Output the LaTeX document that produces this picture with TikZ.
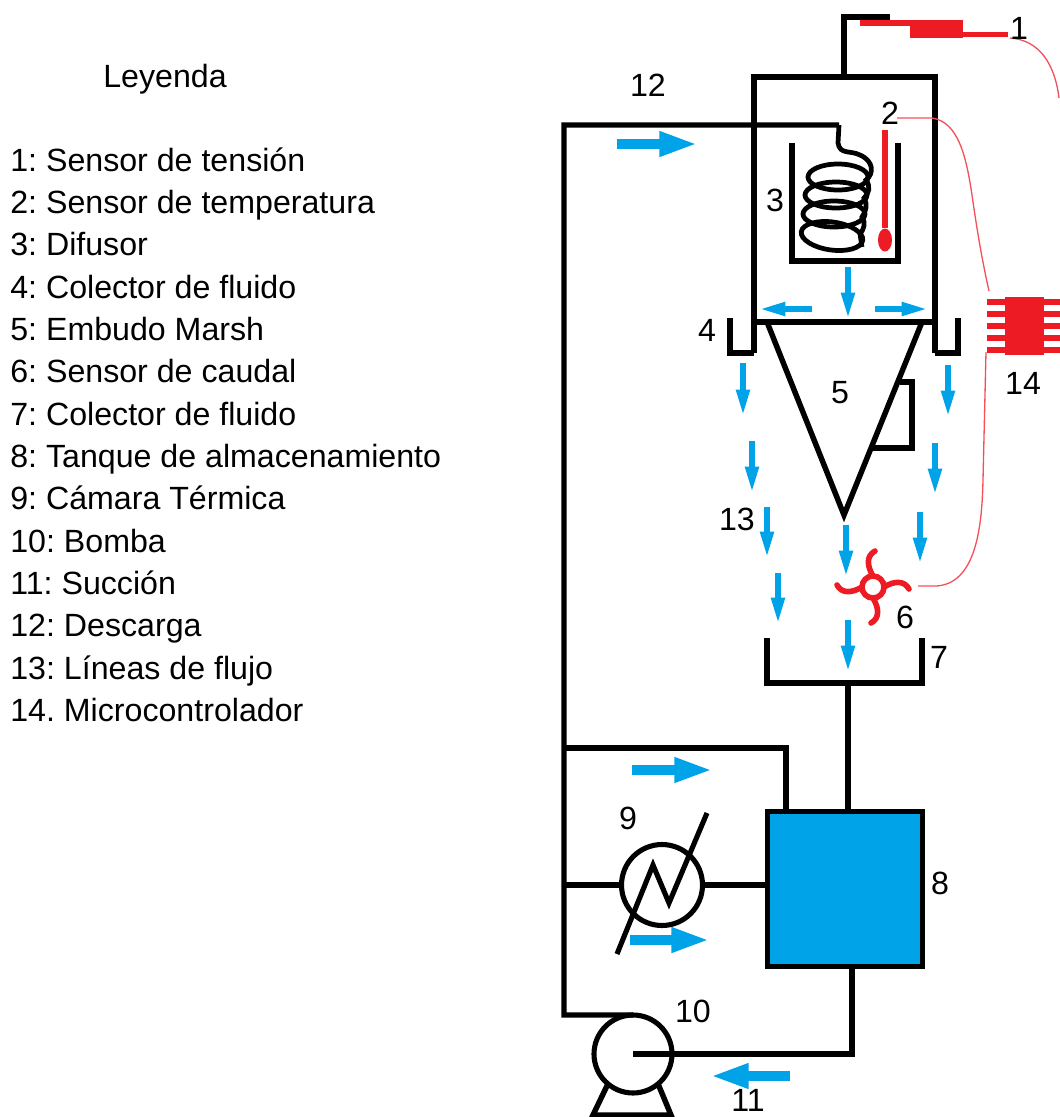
\documentclass[tikz,border=0pt]{standalone}
\usepackage{fontspec}
\setmainfont{Liberation Sans}
\frenchspacing
\usetikzlibrary{shapes.geometric, arrows.meta, positioning}
\definecolor{sensorred}{RGB}{237,28,36}
\definecolor{wirered}{RGB}{244,80,90}
\definecolor{flowblue}{RGB}{0,162,232}

\begin{document}
\begin{tikzpicture}[x=0.02cm, y=-0.02cm,
  pipe/.style={line width=3.1pt, draw=black},
  coil/.style={line width=2.7pt, draw=black},
  equip/.style={circle, draw=black, line width=2.9pt, inner sep=0pt, outer sep=0pt},
  tank/.style={rectangle, draw=black, line width=3pt, fill=flowblue, inner sep=0pt, outer sep=0pt,
               minimum width=3.1cm, minimum height=3.1cm},
  redbar/.style={line width=3.2pt, draw=sensorred},
  redblock/.style={rectangle, fill=sensorred, inner sep=0pt, outer sep=0pt},
  wire/.style={line width=0.75pt, draw=wirered},
  flow/.style={-{Stealth[length=15pt, width=7.2pt, inset=0pt]}, line width=3.3pt, flowblue},
  bigflow/.style={-{Stealth[length=22pt, width=13pt, inset=0pt]}, line width=6.2pt, flowblue},
  tag/.style={font=\fontsize{18.3}{22}\selectfont, inner sep=0pt}
]
  \useasboundingbox (0,0) rectangle (1060,1117);

  \node[tag] (title) at (165,79) {Leyenda};
  \node[tag, anchor=north west, align=left, font=\fontsize{18.3}{24.1}\selectfont] (legend) at (10,147)
    {1: Sensor de tensión\\2: Sensor de temperatura\\3: Difusor\\4: Colector de fluido\\
     5: Embudo Marsh\\6: Sensor de caudal\\7: Colector de fluido\\8: Tanque de almacenamiento\\
     9: Cámara Térmica\\10: Bomba\\11: Succión\\12: Descarga\\13: Líneas de flujo\\14. Microcontrolador};

  \node[tank] (store) at (845,889) {};
  \node[equip] (exch) at (662,885) [minimum size=1.62cm] {};
  \node[equip] (pump) at (633,1054) [minimum size=1.56cm] {};

  \coordinate (dis) at (564,1015);
  \coordinate (top) at (564,125);
  \coordinate (head) at (839,125);
  \coordinate (byp) at (564,748);
  \coordinate (bypr) at (786,748);
  \coordinate (mix) at (564,885);
  \coordinate (suc) at (852,1054);
  \coordinate (base) at (848,683);
  \coordinate (footl) at (593,1115);
  \coordinate (footr) at (671,1115);
  \coordinate (stub) at (844,17);
  \coordinate (stubr) at (890,17);

  \draw[pipe] (pump.north) -- (dis) -- (top) -- (head);
  \draw[pipe] (byp) -- (bypr) -- (bypr |- store.north);
  \draw[pipe] (mix) -- (exch.west);
  \draw[pipe] (exch.east) -- (exch.east -| store.west);
  \draw[pipe] (store.south -| suc) -- (suc) -- (pump.center);
  \draw[pipe] (base) -- (base |- store.north);
  \draw[pipe] (pump.230) -- (footl) -- (footr) -- (pump.310);
  \draw[equip] (617,954) -- (653,865) -- (669,903) -- (707,813);

  \draw[pipe] (754,353) -- (754,77) -- (935,77) -- (935,353);
  \draw[pipe] (730,318) -- (730,353) -- (754,353);
  \draw[pipe] (958,318) -- (958,353) -- (935,353);
  \draw[pipe] (754,322) -- (935,322);
  \draw[pipe] (767,322) -- (844,515) -- (922,322);
  \draw[pipe] (900,382) -- (912,382) -- (912,448) -- (873,448);
  \draw[pipe] (767,638) -- (767,683) -- (922,683) -- (922,638);
  \draw[pipe] (844,77) -- (stub) -- (stubr);
  \draw[pipe] (792,143) -- (792,261) -- (898,261) -- (898,143);

  \draw[coil] (head) -- (838,143) .. controls (840,155) and (850,150) .. (860,155)
    .. controls (874,161) and (874,174) .. (866,180)
    .. controls (871,187) and (869,193) .. (864,198)
    .. controls (868,205) and (866,211) .. (862,217)
    .. controls (866,223) and (864,229) .. (860,234) -- (862,247);
  \draw[coil] (838,177) ellipse [x radius=30, y radius=13];
  \draw[coil] (836,195) ellipse [x radius=31, y radius=13];
  \draw[coil] (834,214) ellipse [x radius=31, y radius=13];
  \draw[coil] (832,236) [rotate around={-8:(832,236)}] ellipse [x radius=31, y radius=14];

  \node[redblock] (volt) at (936.5,29) [minimum width=1.06cm, minimum height=0.36cm] {};
  \coordinate (voltl) at (860,23);
  \coordinate (voltr) at (1008,34.5);
  \draw[redbar] (voltl) -- (voltl -| volt.west);
  \draw[redbar] (voltr -| volt.east) -- (voltr);

  \node[ellipse, fill=sensorred, inner sep=0pt, minimum width=0.28cm, minimum height=0.46cm] (bulb) at (885,240) {};
  \coordinate (stem) at (885,130);
  \draw[redbar] (stem) -- (bulb);

  \draw[line width=3pt, draw=sensorred]
    (987,302) -- (1060,302) (987,314) -- (1060,314) (987,326) -- (1060,326)
    (987,338) -- (1060,338) (987,350) -- (1060,350);
  \node[redblock] (chip) at (1024.5,326) [minimum width=0.78cm, minimum height=1.16cm] {};

  \node[circle, draw=sensorred, line width=3.2pt, fill=white, inner sep=0pt, outer sep=0pt, minimum size=0.44cm] (fan) at (873,587) {};
  \begin{scope}[shift={(873,587)}, line width=3.2pt, draw=sensorred, line cap=round]
    \draw (fan.north) .. controls (-6,-21) and (-7,-31) .. (2,-36);
    \draw (fan.east) .. controls (21,-6) and (31,-7) .. (36,2);
    \draw (fan.south) .. controls (6,21) and (7,31) .. (-2,36);
    \draw (fan.west) .. controls (-21,6) and (-31,7) .. (-36,-2);
  \end{scope}

  \coordinate (wa) at (1010,38);
  \coordinate (wb) at (1059,98);
  \coordinate (wc) at (897,118);
  \coordinate (wd) at (989,291);
  \coordinate (we) at (918,586);
  \draw[wire] (wa) .. controls (1040,40) and (1055,65) .. (wb);
  \draw[wire] (wc) -- (932,118) .. controls (958,122) and (966,155) .. (972,195)
    .. controls (977,230) and (982,260) .. (wd);
  \draw[wire] (we) -- (936,586) .. controls (975,584) and (982,530) .. (983,480) -- (986,352);

  \draw[flow] (848,267) -- (848,319);
  \draw[flow] (812,309) -- (759,309);
  \draw[flow] (875,309) -- (928,309);
  \draw[flow] (743,363) -- (743,416);
  \draw[flow] (752,441) -- (752,493);
  \draw[flow] (767,507) -- (767,558);
  \draw[flow] (778,573) -- (778,624);
  \draw[flow] (846,525) -- (846,577);
  \draw[flow] (848,620) -- (848,672);
  \draw[flow] (948,365) -- (948,417);
  \draw[flow] (935,443) -- (935,495);
  \draw[flow] (920,512) -- (920,564);
  \draw[bigflow] (617,144) -- (698,144);
  \draw[bigflow] (632,770) -- (713,770);
  \draw[bigflow] (630,940) -- (710,940);
  \draw[bigflow] (790,1076) -- (710,1076);

  \node[tag] (n1) at (1019,28) {1};
  \node[tag] (n2) at (890,113) {2};
  \node[tag] (n3) at (775,200) {3};
  \node[tag] (n4) at (707,330) {4};
  \node[tag] (n5) at (840,393) {5};
  \node[tag] (n6) at (905,617) {6};
  \node[tag] (n7) at (939,657) {7};
  \node[tag] (n8) at (940,883) {8};
  \node[tag] (n9) at (628,818) {9};
  \node[tag] (n10) at (693,1011) {10};
  \node[tag] (n11) at (748,1100) {11};
  \node[tag] (n12) at (648,85) {12};
  \node[tag] (n13) at (737,519) {13};
  \node[tag] (n14) at (1023,383) {14};
\end{tikzpicture}
\end{document}
